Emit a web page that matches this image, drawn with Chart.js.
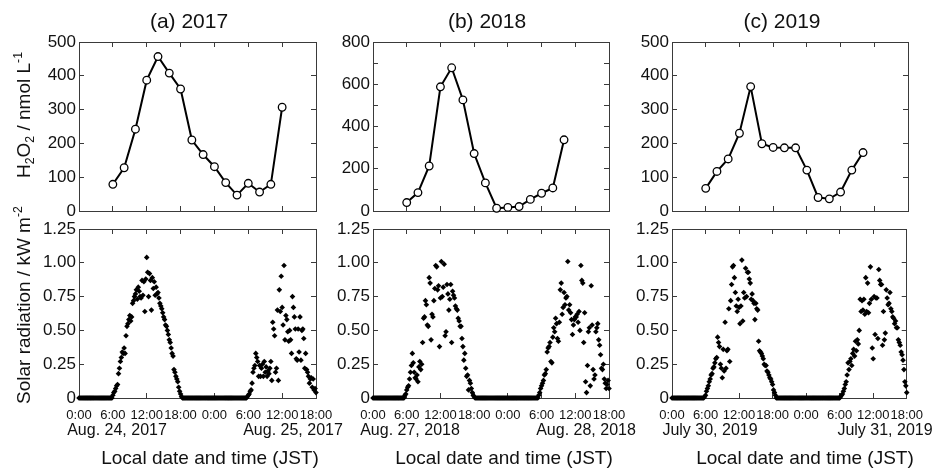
<!DOCTYPE html>
<html><head><meta charset="utf-8">
<script src="https://cdn.jsdelivr.net/npm/chart.js@4.4.1/dist/chart.umd.min.js"></script>
<style>
html,body{margin:0;padding:0;background:#fff;}
#wrap{position:relative;width:938px;height:475px;overflow:hidden;font-family:"Liberation Sans",Arial,sans-serif;color:#111;}
canvas{position:absolute;left:0;top:0;}
.t{position:absolute;white-space:nowrap;transform:translate(-50%,-50%);line-height:1;}
.rot{transform:translate(-50%,-50%) rotate(-90deg);}
.title{font-size:21px;}
.ytitle{font-size:19px;}
.xtitle{font-size:19px;}
.date{font-size:16px;}
sub,sup{font-size:65%;line-height:0;}
</style></head><body><div id="wrap">
<canvas id="ca1" width="938" height="475"></canvas>
<canvas id="cb1" width="938" height="475"></canvas>
<canvas id="cc1" width="938" height="475"></canvas>
<canvas id="ca2" width="938" height="475"></canvas>
<canvas id="cb2" width="938" height="475"></canvas>
<canvas id="cc2" width="938" height="475"></canvas>
<div class="t title" style="left:189px;top:20px;">(a) 2017</div>
<div class="t title" style="left:487px;top:20px;">(b) 2018</div>
<div class="t title" style="left:782px;top:20px;">(c) 2019</div>
<div class="t ytitle rot" style="left:23px;top:115px;">H<sub>2</sub>O<sub>2</sub> / nmol L<sup>-1</sup></div>
<div class="t ytitle rot" style="left:23px;top:305px;">Solar radiation / kW m<sup>-2</sup></div>
<div class="t date" style="left:117px;top:430px;">Aug. 24, 2017</div>
<div class="t date" style="left:293px;top:430px;">Aug. 25, 2017</div>
<div class="t date" style="left:410px;top:430px;">Aug. 27, 2018</div>
<div class="t date" style="left:586px;top:430px;">Aug. 28, 2018</div>
<div class="t date" style="left:710px;top:430px;">July 30, 2019</div>
<div class="t date" style="left:885px;top:430px;">July 31, 2019</div>
<div class="t xtitle" style="left:210px;top:457px;">Local date and time (JST)</div>
<div class="t xtitle" style="left:504px;top:457px;">Local date and time (JST)</div>
<div class="t xtitle" style="left:805px;top:457px;">Local date and time (JST)</div>
</div>
<script>
// ---------- data ----------
const timeTickLabels = ['0:00','6:00','12:00','18:00','0:00','6:00','12:00','18:00'];
const radTickLabels = ['0','0.25','0.50','0.75','1.00','1.25'];

// H2O2 (nmol/L), hours since 0:00 of first day
const h2o2HoursA = [6,8,10,12,14,16,18,20,22,24,26,28,30,32,34,36];
const h2o2A = [79,128,242,387,457,408,361,210,167,131,84,47,82,56,79,307];
const h2o2HoursB = [6,8,10,12,14,16,18,20,22,24,26,28,30,32,34];
const h2o2B = [40,87,213,588,678,526,272,133,13,17,21,55,84,109,337];
const h2o2HoursC = [6,8,10,12,14,16,18,20,22,24,26,28,30,32,34];
const h2o2C = [67,117,154,230,368,199,188,187,187,121,40,36,56,121,173];

// Solar radiation (kW/m2), 10-minute samples from 0:00 of first day (one row = one hour)
const radStepHours = 1/6;
const radA = [
0,0,0,0,0,0, 0,0,0,0,0,0, 0,0,0,0,0,0, 0,0,0,0,0,0, 0,0,0,0,0,0, 0,0,0,0,0,0,
0.02,0.04,0.05,0.07,0.09,0.10,
0.18,0.22,0.27,0.30,0.34,0.33,
0.37,0.33,0.46,0.53,0.55,0.58,
0.61,0.57,0.60,0.70,0.72,0.75,
0.77,0.80,0.73,0.82,0.79,0.75,
0.74,0.87,0.76,0.86,0.64,0.88,
1.04,0.93,0.75,0.92,0.87,0.65,
0.89,0.81,0.86,0.76,0.82,0.77,
0.78,0.74,0.70,0.68,0.66,0.63,
0.60,0.58,0.54,0.53,0.50,0.47,
0.43,0.41,0.37,0.33,0.31,0.21,
0.19,0.16,0.14,0.12,0.08,0.05,
0.03,0.01,0,0,0,0,
0,0,0,0,0,0, 0,0,0,0,0,0, 0,0,0,0,0,0, 0,0,0,0,0,0, 0,0,0,0,0,0,
0,0,0,0,0,0, 0,0,0,0,0,0, 0,0,0,0,0,0, 0,0,0,0,0,0, 0,0,0,0,0,0,
0,0,0,0,0,0.01,
0.02,0.03,0.05,0.06,0.11,0.19,
0.22,0.24,0.33,0.30,0.27,0.16,
0.24,0.16,0.22,0.25,0.16,0.27,
0.19,0.23,0.16,0.20,0.18,0.22,
0.27,0.13,0.56,0.51,0.46,0.19,
0.22,0.65,0.13,0.80,0.64,0.90,
0.67,0.54,0.98,0.43,0.61,0.58,
0.49,0.42,0.50,0.43,0.33,0.75,
0.67,0.60,0.51,0.29,0.28,0.51,
0.34,0.60,0.28,0.50,0.51,0.44,
0.22,0.33,0.21,0.19,0.16,0.11,
0.14,0.15,0.08,0.14,0.06,0.07,
0.04];
const radB = [
0,0,0,0,0,0, 0,0,0,0,0,0, 0,0,0,0,0,0, 0,0,0,0,0,0, 0,0,0,0,0,0,
0,0,0,0,0.02,0.03,
0.06,0.08,0.09,0.14,0.19,0.24,
0.33,0.26,0.19,0.15,0.14,0.17,
0.12,0.23,0.27,0.21,0.25,0.41,
0.59,0.60,0.72,0.69,0.54,0.53,
0.89,0.85,0.43,0.62,0.60,0.72,
0.81,0.98,0.97,0.80,0.83,0.38,
0.74,1.01,0.75,0.82,0.99,0.46,
0.49,0.84,0.77,0.65,0.73,0.84,
0.41,0.79,0.76,0.74,0.68,0.66,
0.65,0.59,0.57,0.53,0.53,0.44,
0.38,0.28,0.33,0.22,0.16,0.17,
0.06,0.13,0.11,0.07,0.04,0.02,
0.01,0,0,0,0,0,
0,0,0,0,0,0, 0,0,0,0,0,0, 0,0,0,0,0,0, 0,0,0,0,0,0, 0,0,0,0,0,0,
0,0,0,0,0,0, 0,0,0,0,0,0, 0,0,0,0,0,0, 0,0,0,0,0,0, 0,0,0,0,0,0,
0,0,0,0.02,0.04,0.07,
0.09,0.11,0.13,0.17,0.18,0.21,
0.34,0.37,0.38,0.41,0.27,0.26,
0.45,0.52,0.49,0.59,0.55,0.44,
0.42,0.56,0.80,0.85,0.62,0.67,
0.78,0.69,0.74,0.75,1.01,0.65,
0.69,0.63,0.58,0.47,0.54,0.58,
0.60,0.60,0.62,0.56,0.64,0.50,
0.98,0.87,0.85,0.41,0.63,0.12,
0.04,0.24,0.49,0.52,0.09,0.83,
0.54,0.21,0.14,0.17,0.49,0.52,
0.55,0.43,0.39,0.32,0.22,0.21,
0.25,0.14,0.11,0.07,0.10,0.13,
0.07];
const radC = [
0,0,0,0,0,0, 0,0,0,0,0,0, 0,0,0,0,0,0, 0,0,0,0,0,0, 0,0,0,0,0,0,
0,0,0,0,0,0.01,
0.02,0.05,0.07,0.09,0.12,0.14,
0.17,0.18,0.22,0.23,0.26,0.29,
0.30,0.45,0.41,0.38,0.25,0.22,
0.15,0.36,0.20,0.56,0.22,0.35,
0.36,0.66,0.27,0.72,0.84,0.97,
0.98,0.89,0.78,0.68,0.64,0.73,
0.67,0.55,0.68,1.02,0.57,0.78,
0.74,0.96,0.75,0.93,0.93,0.88,
0.85,0.73,0.77,0.72,0.70,0.58,
0.70,0.66,0.65,0.42,0.35,0.34,
0.33,0.31,0.29,0.25,0.24,0.24,
0.20,0.19,0.17,0.15,0.14,0.12,
0.10,0.06,0.04,0.02,0,0,
0,0,0,0,0,0, 0,0,0,0,0,0, 0,0,0,0,0,0, 0,0,0,0,0,0, 0,0,0,0,0,0,
0,0,0,0,0,0, 0,0,0,0,0,0, 0,0,0,0,0,0, 0,0,0,0,0,0, 0,0,0,0,0,0,
0,0,0,0,0,0,
0,0.01,0.02,0.03,0.05,0.07,
0.10,0.12,0.17,0.26,0.21,0.27,
0.29,0.24,0.33,0.36,0.31,0.42,
0.35,0.43,0.40,0.50,0.73,0.64,
0.72,0.65,0.73,0.62,0.89,0.64,
0.85,0.63,0.70,0.97,0.73,0.37,
0.29,0.75,0.47,0.74,0.74,0.44,
0.95,0.87,0.84,0.84,0.39,0.64,
0.43,0.48,0.80,0.74,0.69,0.70,
0.78,0.66,0.64,0.60,0.59,0.55,
0.57,0.52,0.52,0.43,0.41,0.39,
0.34,0.32,0.28,0.21,0.12,0.09,
0.04];

// ---------- chart building ----------
const FONT = '"Liberation Sans", Arial, sans-serif';
const INK = '#111';
const FRAME = '#3a3a3a';
const TL = -5;
const YAXIS_W = 60;   // reserved width for left tick labels
const XAXIS_H = 28;   // reserved height for bottom tick labels

function axis(pos, min, max, step, showLabels, labelFn, fontSize, pad, size) {
  return {
    type: 'linear', position: pos, min: min, max: max,
    afterFit: function (s) { if (s.isHorizontal()) { s.height = size; } else { s.width = size; } },
    border: { display: true, color: FRAME, width: 1 },
    grid: { drawOnChartArea: false, drawTicks: true, tickLength: TL, color: FRAME, lineWidth: 1 },
    ticks: {
      display: showLabels, stepSize: step, autoSkip: false, maxRotation: 0, minRotation: 0,
      padding: pad, color: INK, font: { family: FONT, size: fontSize },
      callback: labelFn
    }
  };
}

function makeChart(id, area, datasets, yMax, yStep, yLabelFn, showX) {
  const xh = showX ? XAXIS_H : 0;
  const x = axis('bottom', 0, 42, 6, showX, function (v, i) { return timeTickLabels[i]; }, 13, 15, xh);
  const x2 = axis('top', 0, 42, 6, false, function () { return ''; }, 13, 0, 0);
  const y = axis('left', 0, yMax, yStep, true, yLabelFn, 17, 8, YAXIS_W);
  const y2 = axis('right', 0, yMax, yStep, false, function () { return ''; }, 17, 0, 0);
  return new Chart(document.getElementById(id), {
    type: 'scatter',
    data: { datasets: datasets },
    options: {
      responsive: false, animation: false, events: [],
      layout: { padding: { left: area[0] - YAXIS_W, top: area[1], right: 938 - area[2], bottom: 475 - area[3] - xh } },
      plugins: { legend: { display: false }, tooltip: { enabled: false } },
      scales: { x: x, x2: x2, y: y, y2: y2 }
    }
  });
}

function h2o2Set(hours, vals) {
  return [{
    data: hours.map(function (h, i) { return { x: h, y: vals[i] }; }),
    showLine: true, borderColor: '#000', borderWidth: 2, tension: 0,
    pointRadius: 3.8, pointBackgroundColor: '#fff', pointBorderColor: '#000', pointBorderWidth: 1.3,
    clip: false
  }];
}
function radSet(vals) {
  return [{
    data: vals.map(function (v, i) { return { x: i * radStepHours, y: v }; }),
    showLine: false, pointStyle: 'rectRot', pointRadius: 2.8,
    pointBackgroundColor: '#000', pointBorderColor: '#000', pointBorderWidth: 0,
    clip: false
  }];
}

const lbl = function (v) { return String(v); };
const lblB = function (v) { return (v % 200 === 0) ? String(v) : ''; };
const lblRad = function (v, i) { return radTickLabels[i]; };

const topT = 42, topB = 211, botT = 229, botB = 398;
const colA = [79, 316], colB = [373, 609], colC = [672, 908];

makeChart('ca1', [colA[0], topT, colA[1], topB], h2o2Set(h2o2HoursA, h2o2A), 500, 100, lbl, false);
makeChart('cb1', [colB[0], topT, colB[1], topB], h2o2Set(h2o2HoursB, h2o2B), 800, 100, lblB, false);
makeChart('cc1', [colC[0], topT, colC[1], topB], h2o2Set(h2o2HoursC, h2o2C), 500, 100, lbl, false);
makeChart('ca2', [colA[0], botT, colA[1], botB], radSet(radA), 1.25, 0.25, lblRad, true);
makeChart('cb2', [colB[0], botT, colB[1], botB], radSet(radB), 1.25, 0.25, lblRad, true);
makeChart('cc2', [colC[0], botT, colC[1], botB], radSet(radC), 1.25, 0.25, lblRad, true);
</script>
</body></html>
